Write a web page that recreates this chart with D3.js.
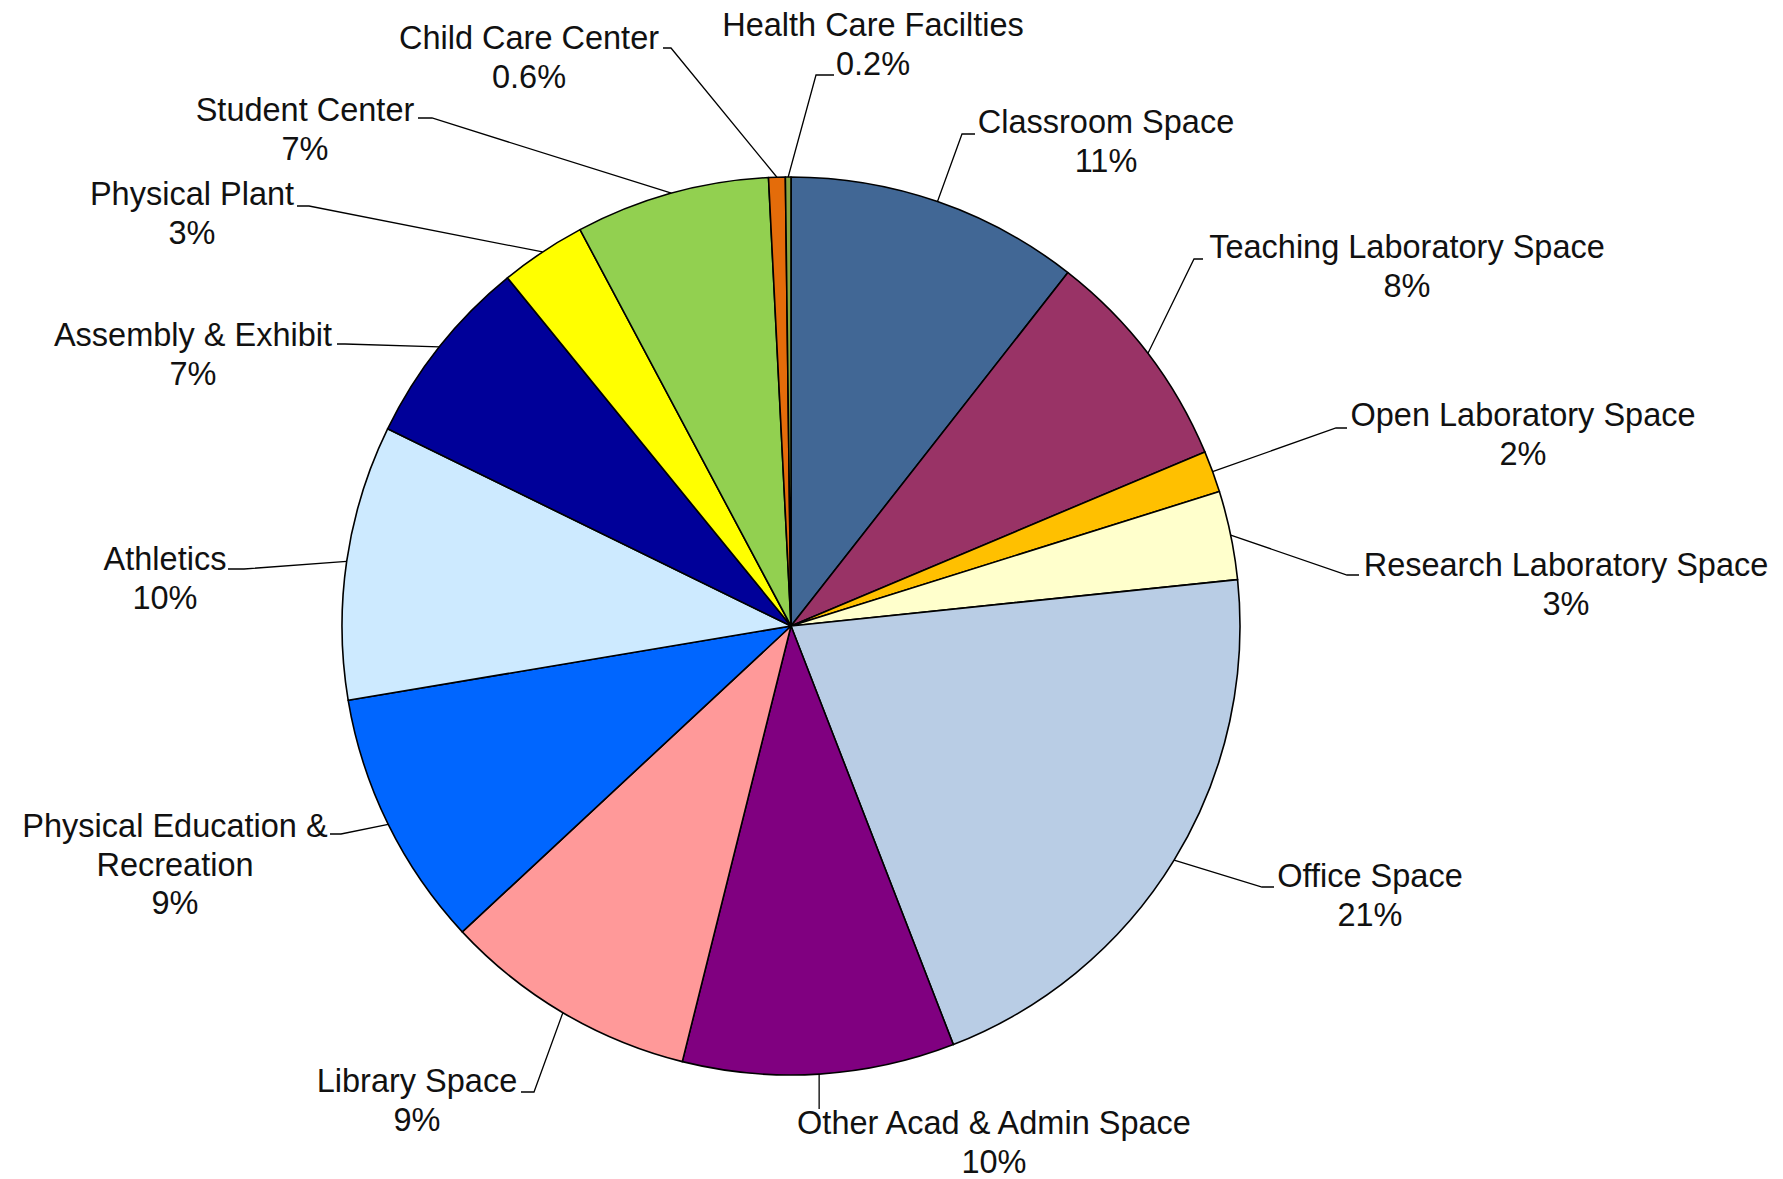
<!DOCTYPE html>
<html>
<head>
<meta charset="utf-8">
<script src="https://cdn.jsdelivr.net/npm/d3@7"></script>
<style>
    body { margin: 0; background: #fff; }
    svg text { font-family: "Liberation Sans", Arial, sans-serif; }
</style>
</head>
<body>
<div id="chart"></div>
<script>
// space categories, clockwise from 12 o'clock
var categories = ['Classroom Space', 'Teaching Laboratory Space', 'Open Laboratory Space',
    'Research Laboratory Space', 'Office Space', 'Other Acad & Admin Space', 'Library Space',
    'Physical Education & Recreation', 'Athletics', 'Assembly & Exhibit', 'Physical Plant',
    'Student Center', 'Child Care Center', 'Health Care Facilties'];
// share of total (%)
var shares = [10.6, 8.1, 1.5, 3.2, 20.8, 9.8, 9.2, 9.3, 9.9, 6.9, 3.1, 7.0, 0.6, 0.2];
var pctLabels = ['11%', '8%', '2%', '3%', '21%', '10%', '9%', '9%', '10%', '7%', '3%', '7%', '0.6%', '0.2%'];

var colors = ['#416795', '#993366', '#ffc000', '#ffffcc', '#b9cde5', '#800080', '#ff9999',
    '#0066ff', '#cdeaff', '#000099', '#ffff00', '#92d050', '#e46c0a', '#86a845'];

// label placement: text centre x, first baseline, leader elbow and end of the short tick
var labelLayout = [
    {cx: 1106, y: 133, ex: 962, ey: 134, hx: 975},
    {cx: 1407, y: 258, ex: 1194, ey: 259, hx: 1203},
    {cx: 1523, y: 426, ex: 1336, ey: 428, hx: 1347},
    {cx: 1566, y: 576, ex: 1347, ey: 575, hx: 1359},
    {cx: 1370, y: 887, ex: 1262, ey: 887, hx: 1274},
    {cx: 994, y: 1134, ex: null, ey: 1109, hx: null},
    {cx: 417, y: 1092, ex: 534, ey: 1092, hx: 521},
    {cx: 175, y: 837, ex: 341, ey: 834, hx: 330, wrap: 20},
    {cx: 165, y: 570, ex: 244, ey: 569, hx: 228},
    {cx: 193, y: 346, ex: 345, ey: 344, hx: 337},
    {cx: 192, y: 205, ex: 309, ey: 206, hx: 297},
    {cx: 305, y: 121, ex: 432, ey: 118, hx: 418},
    {cx: 529, y: 49, ex: 671, ey: 48, hx: 663},
    {cx: 873, y: 36, ex: 816, ey: 75, hx: 834}
];

(function () {
    var width = 1783, height = 1179,
        cx = 791, cy = 626, radius = 449,
        fontSize = 32.5, lineGap = 38.5;

    var svg = d3.select('#chart').append('svg')
        .attr('width', width).attr('height', height);

    var g = svg.append('g')
        .attr('transform', 'translate(' + cx + ',' + cy + ')');

    var pie = d3.pie().sort(null).value(function (d) { return d; });
    var arcs = pie(shares);

    var arc = d3.arc().innerRadius(0).outerRadius(radius);
    var rim = d3.arc().innerRadius(radius).outerRadius(radius);

    g.selectAll('path.slice').data(arcs).enter().append('path')
        .attr('class', 'slice')
        .attr('d', arc)
        .attr('fill', function (d, i) { return colors[i]; })
        .attr('stroke', '#000')
        .attr('stroke-width', 1.6)
        .attr('stroke-linejoin', 'round');

    function wrapName(name, max) {
        if (!max) return [name];
        var words = name.split(' '), lines = [], cur = '';
        words.forEach(function (w) {
            var next = cur ? cur + ' ' + w : w;
            if (next.length > max && cur) { lines.push(cur); cur = w; } else { cur = next; }
        });
        lines.push(cur);
        return lines;
    }

    // leader lines
    var leaders = svg.append('g').attr('class', 'leaders');
    arcs.forEach(function (d, i) {
        var L = labelLayout[i],
            c = rim.centroid(d),
            sx = cx + c[0], sy = cy + c[1],
            ex = L.ex === null ? sx : L.ex,
            hx = L.hx === null ? ex : L.hx;
        var pts = [[sx, sy], [ex, L.ey], [hx, L.ey]];
        leaders.append('path')
            .attr('d', d3.line()(pts))
            .attr('fill', 'none')
            .attr('stroke', '#000')
            .attr('stroke-width', 1.3);
    });

    // labels
    var labels = svg.append('g').attr('class', 'labels');
    categories.forEach(function (name, i) {
        var L = labelLayout[i],
            lines = wrapName(name, L.wrap).concat([pctLabels[i]]);
        var t = labels.append('text')
            .attr('text-anchor', 'middle')
            .attr('font-size', fontSize)
            .attr('fill', '#111');
        lines.forEach(function (s, k) {
            t.append('tspan')
                .attr('x', L.cx)
                .attr('y', L.y + k * lineGap)
                .text(s);
        });
    });
})();
</script>
</body>
</html>
